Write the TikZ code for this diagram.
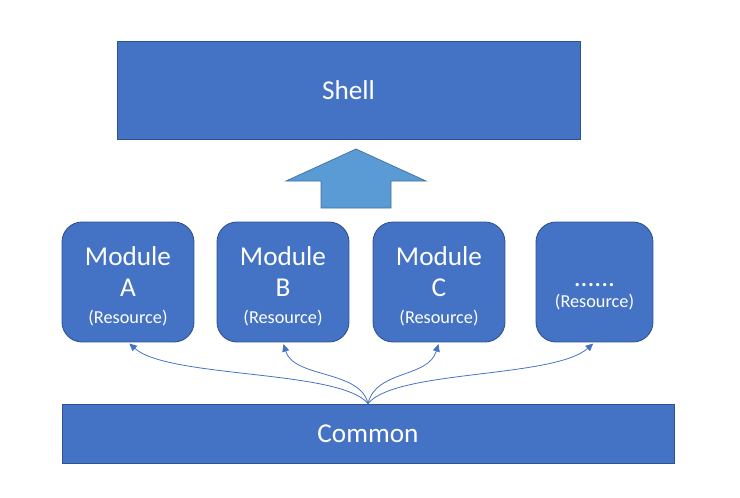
\documentclass[tikz,border=0pt]{standalone}
\usepackage{fontspec}
\setmainfont{Carlito}
\usepackage{xcolor}
\usetikzlibrary{arrows.meta,positioning,calc}

\definecolor{boxblue}{HTML}{4472C4}
\definecolor{boxline}{HTML}{2F528F}
\definecolor{upblue}{HTML}{5B9BD5}
\definecolor{upline}{HTML}{41719C}

\tikzset{
  layer/.style={draw=boxline, fill=boxblue, line width=0.5pt, text=white,
    font=\fontsize{15.5}{18}\selectfont},
  module/.style={layer, rounded corners=0.4cm, minimum width=2.64cm,
    minimum height=2.4cm, align=center},
  dep/.style={draw=boxblue, line width=0.45pt, -{Triangle[length=0.15cm,width=0.14cm]}, shorten >=1pt}
}
\newcommand{\res}{{\fontsize{10.4}{12}\selectfont (Resource)}}

\begin{document}
\begin{tikzpicture}[x=0.02cm, y=-0.02cm]
    \useasboundingbox (0,0) rectangle (740,497);

    % Shell on top
    \node[layer, minimum width=9.26cm, minimum height=1.96cm] (shell) at (348.5,90) {Shell};

    % Up arrow
    \draw[fill=upblue, draw=upline, line width=0.4pt]
      (356,149) -- (426,181) -- (391,181) -- (391,208) -- (321,208) -- (321,181) -- (286,181) -- cycle;

    % Modules
    \node[module] (mA) at (128,282) {\rule{0pt}{15.5pt}Module\\[0pt]A\\[-3pt]\res};
    \node[module] (mB) at (283,282) {\rule{0pt}{15.5pt}Module\\[0pt]B\\[-3pt]\res};
    \node[module] (mC) at (439,282) {\rule{0pt}{15.5pt}Module\\[0pt]C\\[-3pt]\res};
    \node[module, minimum width=2.34cm] (mD) at (594.5,282) {\rule{0pt}{18pt}......\\[-6pt]\res};

    % Common at the bottom
    \node[layer, minimum width=12.24cm, minimum height=1.18cm] (common) at (368,433.5) {Common};

    % Connect nodes
    \draw[dep] (common.north) .. controls +(-28,-34) and +(41,36) .. (mA.south);
    \draw[dep] (common.north) .. controls +(-8,-34) and +(11,36) .. (mB.south);
    \draw[dep] (common.north) .. controls +(8,-34) and +(-11,36) .. (mC.south);
    \draw[dep] (common.north) .. controls +(28,-34) and +(-41,36) .. (mD.south);
\end{tikzpicture}
\end{document}
